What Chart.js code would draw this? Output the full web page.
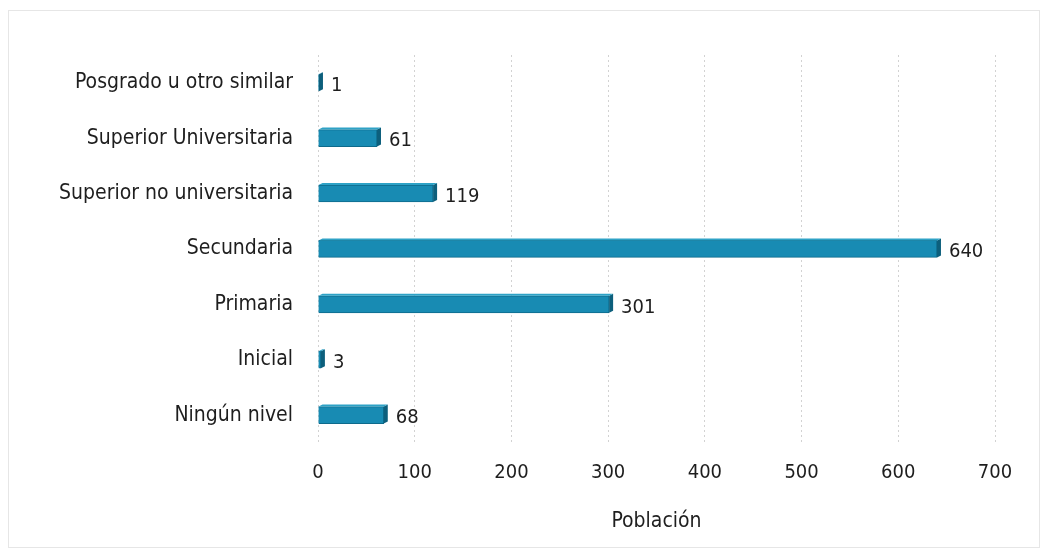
<!DOCTYPE html>
<html>
<head>
<meta charset="utf-8">
<script src="https://cdn.jsdelivr.net/npm/chart.js@4"></script>
<style>
  html, body { margin: 0; padding: 0; background: #fff; }
  .wrap { position: relative; width: 1044px; height: 560px; }
  .frame { position: absolute; left: 8px; top: 10px; width: 1030px; height: 536px; border: 1px solid #e6e6e6; }
  canvas { position: absolute; left: 0; top: 0; }
</style>
</head>
<body>
<div class="wrap">
  <div class="frame"></div>
  <canvas id="nivelCanvas" width="1044" height="560"></canvas>
</div>
<script>
// Nivel educativo - población
const categories = [
  'Posgrado u otro similar',
  'Superior Universitaria',
  'Superior no universitaria',
  'Secundaria',
  'Primaria',
  'Inicial',
  'Ningún nivel'
];
const poblacion = [1, 61, 119, 640, 301, 3, 68];
const xTicks = [0, 100, 200, 300, 400, 500, 600, 700];

const FONT = '"DejaVu Sans Condensed", "Liberation Sans Narrow", "Liberation Sans", Arial, sans-serif';

// value labels at the end of each bar
const valueLabels = {
  id: 'valueLabels',
  afterDatasetsDraw(chart) {
    const ctx = chart.ctx;
    const meta = chart.getDatasetMeta(0);
    ctx.save();
    ctx.font = '20px ' + FONT;
    ctx.fillStyle = '#1e1e1e';
    ctx.textBaseline = 'middle';
    meta.data.forEach(function(bar, i) {
      ctx.fillText(String(poblacion[i]), bar.x + 12, bar.y + 3);
    });
    ctx.restore();
  }
};

// small 3D look: darker end cap and top strip
const depthFaces = {
  id: 'depthFaces',
  afterDatasetsDraw(chart) {
    const ctx = chart.ctx;
    const meta = chart.getDatasetMeta(0);
    ctx.save();
    meta.data.forEach(function(bar) {
      const h = bar.height;
      const top = bar.y - h / 2;
      ctx.fillStyle = '#0d5f7c';
      ctx.beginPath();
      ctx.moveTo(bar.x, top);
      ctx.lineTo(bar.x + 4, top - 2);
      ctx.lineTo(bar.x + 4, top + h - 2);
      ctx.lineTo(bar.x, top + h);
      ctx.closePath();
      ctx.fill();
      ctx.fillStyle = '#2ea2c6';
      ctx.beginPath();
      ctx.moveTo(bar.base, top);
      ctx.lineTo(bar.base + 4, top - 2);
      ctx.lineTo(bar.x + 4, top - 2);
      ctx.lineTo(bar.x, top);
      ctx.closePath();
      ctx.fill();
    });
    ctx.restore();
  }
};

new Chart(document.getElementById('nivelCanvas'), {
  type: 'bar',
  data: {
    labels: categories,
    datasets: [{
      data: poblacion,
      backgroundColor: '#188bb3',
      borderColor: '#0e6a8b',
      borderWidth: 1,
      barThickness: 17
    }]
  },
  options: {
    indexAxis: 'y',
    responsive: false,
    animation: false,
    layout: { padding: { left: 8, right: 49, top: 55, bottom: 22 } },
    plugins: {
      legend: { display: false },
      tooltip: { enabled: false }
    },
    scales: {
      x: {
        min: 0,
        max: 700,
        afterBuildTicks: function(scale) {
          scale.ticks = xTicks.map(function(v) { return { value: v }; });
        },
        grid: {
          color: '#d2d2d2',
          lineWidth: 1,
          drawTicks: false
        },
        border: { display: false, dash: [2, 3] },
        ticks: {
          padding: 18,
          font: { size: 20, family: FONT },
          color: '#1e1e1e'
        },
        title: {
          display: true,
          text: 'Población',
          font: { size: 21, family: FONT },
          color: '#1e1e1e',
          padding: { top: 6 }
        }
      },
      y: {
        grid: { display: false },
        border: { display: false },
        afterFit: function(scale) { scale.width = 310; },
        ticks: {
          padding: 17,
          font: { size: 21, family: FONT },
          color: '#1e1e1e'
        }
      }
    }
  },
  plugins: [valueLabels, depthFaces]
});
</script>
</body>
</html>
